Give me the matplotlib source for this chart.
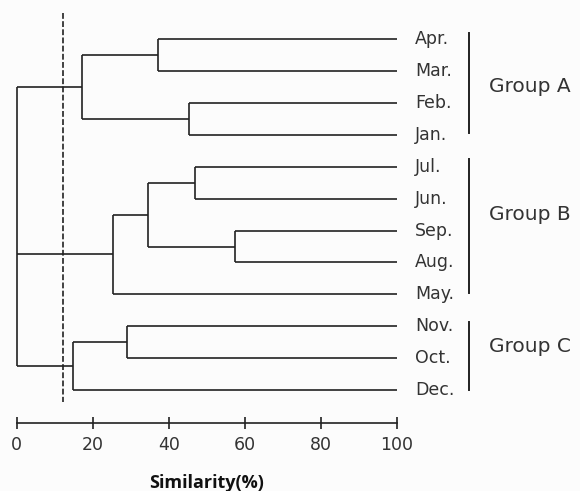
import matplotlib.pyplot as plt

# leaf order, top to bottom
months = ['Apr.', 'Mar.', 'Feb.', 'Jan.', 'Jul.', 'Jun.',
          'Sep.', 'Aug.', 'May.', 'Nov.', 'Oct.', 'Dec.']

# cluster name -> (members, similarity % where they join)
clusters = {
    'AM': (['Apr.', 'Mar.'], 37.3),
    'FJ': (['Feb.', 'Jan.'], 45.4),
    'A': (['AM', 'FJ'], 17.1),
    'JJ': (['Jul.', 'Jun.'], 46.9),
    'SA': (['Sep.', 'Aug.'], 57.4),
    'JS': (['JJ', 'SA'], 34.5),
    'B': (['JS', 'May.'], 25.4),
    'NO': (['Nov.', 'Oct.'], 29.0),
    'C': (['NO', 'Dec.'], 14.7),
    'root': (['A', 'B', 'C'], 0.0),
}

cut_level = 12.3

group_names = ['Group A', 'Group B', 'Group C']
group_spans = [(-0.2, 2.93), (3.75, 7.95), (8.88, 11.0)]
group_label_y = [1.47, 5.51, 9.65]

xticks = [0, 20, 40, 60, 80, 100]

LC = '#222222'
LW = 1.2


def node_pos(name):
    if name in months:
        return 100.0, months.index(name)
    kids, sim = clusters[name]
    ys = [node_pos(k)[1] for k in kids]
    return sim, (min(ys) + max(ys)) / 2.0


def draw(ax, name):
    if name in months:
        return
    kids, sim = clusters[name]
    ys = []
    for k in kids:
        kx, ky = node_pos(k)
        ax.plot([kx, sim], [ky, ky], color=LC, lw=LW, clip_on=False,
                solid_capstyle='butt')
        draw(ax, k)
        ys.append(ky)
    ax.plot([sim, sim], [min(ys), max(ys)], color=LC, lw=LW, clip_on=False,
            solid_capstyle='butt')


fig = plt.figure(figsize=(5.8, 4.91), dpi=100, facecolor='#fcfcfc')
W, H = 580.0, 491.0
x0, x1 = 16.7, 396.7
ytop, ybot = 13.0, 423.0
ax = fig.add_axes([x0 / W, 1 - ybot / H, (x1 - x0) / W, (ybot - ytop) / H])
ax.set_facecolor('#fcfcfc')

leaf0, step = 39.3, 31.88
ax.set_xlim(0, 100)
ax.set_ylim((ybot - leaf0) / step, (ytop - leaf0) / step)

draw(ax, 'root')

# cut-off line
ax.plot([cut_level, cut_level], [(ytop - leaf0) / step, (402 - leaf0) / step],
        color=LC, lw=1.2, linestyle=(0, (3.5, 1.4)), clip_on=False)

for i, m in enumerate(months):
    ax.text(104.9, i, m, ha='left', va='center', fontsize=12.5,
            color='#333333', family='DejaVu Sans')

for g, (a, b), gy in zip(group_names, group_spans, group_label_y):
    ax.plot([119.1, 119.1], [a, b], color=LC, lw=1.4, clip_on=False)
    ax.text(124.2, gy, g, ha='left', va='center', fontsize=14.5,
            color='#333333', family='DejaVu Sans')

for s in ['top', 'left', 'right']:
    ax.spines[s].set_visible(False)
ax.spines['bottom'].set_color(LC)
ax.spines['bottom'].set_linewidth(1.2)
ax.set_yticks([])
ax.set_xticks(xticks)
ax.tick_params(axis='x', direction='inout', length=8, width=1.2, color=LC,
               labelsize=12.5, labelcolor='#333333', pad=5)
ax.set_xlabel('Similarity(%)', fontsize=13, fontweight='bold',
              family=['Open Sans', 'DejaVu Sans'], color='#111111',
              labelpad=15)

fig.savefig('out.png', dpi=100, facecolor='#fcfcfc')
